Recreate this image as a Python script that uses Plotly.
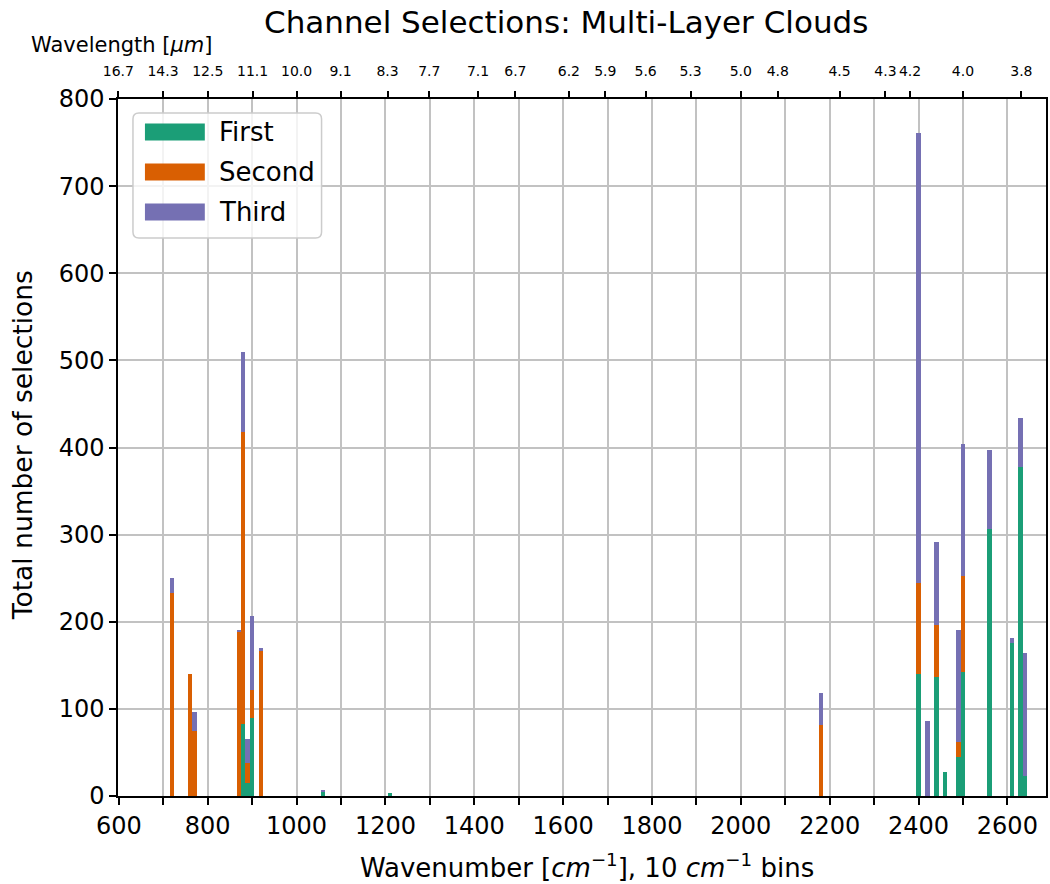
import plotly.graph_objects as go

# ---------------- data ----------------
wavenumber_bins = [720, 760, 770, 870, 880, 890, 900, 920, 1060, 1210, 2180,
                   2400, 2420, 2440, 2460, 2490, 2500, 2560, 2610, 2630, 2640]
first = [0, 0, 0, 0, 83, 15, 90, 0, 5, 3, 0,
         140, 0, 137, 27, 45, 142, 306, 176, 378, 23]
second = [233, 140, 75, 189, 335, 23, 32, 166, 0, 0, 82,
          104, 0, 59, 0, 17, 111, 0, 0, 0, 0]
third = [17, 0, 21, 2, 92, 28, 85, 4, 2, 0, 36,
         517, 86, 95, 0, 129, 151, 91, 5, 56, 141]
series_names = ["First", "Second", "Third"]
series_colors = ["#1b9e77", "#d95f02", "#7570b3"]
bin_width = 10

x_ticks = list(range(600, 2700, 100))
x_tick_labels = [str(v) if v % 200 == 0 else "" for v in x_ticks]
y_ticks = list(range(0, 900, 100))
wavelength_labels = ["16.7", "14.3", "12.5", "11.1", "10.0", "9.1", "8.3", "7.7",
                     "7.1", "6.7", "6.2", "5.9", "5.6", "5.3", "5.0", "4.8",
                     "4.5", "4.3", "4.2", "4.0", "3.8"]
wavelength_positions = [1e4 / float(w) for w in wavelength_labels]

X_RANGE = [598, 2687]
Y_RANGE = [0, 800]

# ---------------- layout geometry ----------------
W, H = 1050, 884
ML, MR, MT, MB = 118, 2, 99, 88
PW, PH = W - ML - MR, H - MT - MB
FONT = "DejaVu Sans"


def px(xp):
    return (xp - ML) / PW


def py(yp):
    return (H - MB - yp) / PH


fig = go.Figure()
for name, vals, col in zip(series_names, [first, second, third], series_colors):
    fig.add_trace(go.Bar(x=wavenumber_bins, y=vals, width=bin_width, name=name,
                         marker=dict(color=col, line=dict(width=0)),
                         showlegend=False))

# invisible trace to anchor the top axis
fig.add_trace(go.Scatter(x=[], y=[], xaxis="x2", showlegend=False, hoverinfo="skip"))

grid_col = "#c2c2c2"
fig.update_layout(
    width=W, height=H,
    margin=dict(l=ML, r=MR, t=MT, b=MB),
    paper_bgcolor="white", plot_bgcolor="white",
    barmode="stack",
    font=dict(family=FONT, color="black"),
    xaxis=dict(range=X_RANGE, tickmode="array", tickvals=x_ticks, ticktext=x_tick_labels,
               ticks="outside", ticklen=7, tickwidth=1.5, tickcolor="black",
               showline=True, linecolor="black", linewidth=1.5, mirror=True,
               showgrid=True, gridcolor=grid_col, gridwidth=1.6,
               tickfont=dict(size=24, family=FONT), zeroline=False),
    xaxis2=dict(range=X_RANGE, overlaying="x", side="top", anchor="y",
                tickmode="array", tickvals=wavelength_positions, ticktext=wavelength_labels,
                ticks="outside", ticklen=7, tickwidth=1.5, tickcolor="black",
                showline=False, showgrid=False, zeroline=False,
                tickfont=dict(size=14, family=FONT), ticklabelstandoff=9),
    yaxis=dict(range=Y_RANGE, tickmode="array", tickvals=y_ticks,
               ticks="outside", ticklen=7, tickwidth=1.5, tickcolor="black",
               showline=True, linecolor="black", linewidth=1.5, mirror=True,
               showgrid=True, gridcolor=grid_col, gridwidth=1.6,
               tickfont=dict(size=24, family=FONT), zeroline=False),
)

annotations = [
    dict(text="Channel Selections: Multi-Layer Clouds", x=px(567), y=py(22),
         xref="paper", yref="paper", showarrow=False, xanchor="center", yanchor="middle",
         font=dict(size=31, family=FONT)),
    dict(text="Wavelength [<i>μm</i>]", x=px(29), y=py(45),
         xref="paper", yref="paper", showarrow=False, xanchor="left", yanchor="middle",
         font=dict(size=21, family=FONT)),
    dict(text="Wavenumber [<i>cm</i><sup>−1</sup>], 10 <i>cm</i><sup>−1</sup> bins",
         x=px(588), y=py(866), xref="paper", yref="paper", showarrow=False,
         xanchor="center", yanchor="middle", font=dict(size=26, family=FONT)),
    dict(text="Total number of selections", x=px(22), y=py(445), textangle=-90,
         xref="paper", yref="paper", showarrow=False, xanchor="center", yanchor="middle",
         font=dict(size=26.5, family=FONT)),
]

# legend drawn manually (wide patches like the reference)
shapes = []
lx0, lx1, ly0, ly1, r = 133, 322, 113, 238, 6
path = (f"M {px(lx0 + r)},{py(ly0)} L {px(lx1 - r)},{py(ly0)} "
        f"Q {px(lx1)},{py(ly0)} {px(lx1)},{py(ly0 + r)} "
        f"L {px(lx1)},{py(ly1 - r)} Q {px(lx1)},{py(ly1)} {px(lx1 - r)},{py(ly1)} "
        f"L {px(lx0 + r)},{py(ly1)} Q {px(lx0)},{py(ly1)} {px(lx0)},{py(ly1 - r)} "
        f"L {px(lx0)},{py(ly0 + r)} Q {px(lx0)},{py(ly0)} {px(lx0 + r)},{py(ly0)} Z")
shapes.append(dict(type="path", path=path, xref="paper", yref="paper",
                   fillcolor="rgba(255,255,255,0.8)", line=dict(color="#cccccc", width=1.5),
                   layer="above"))
for i, (name, col) in enumerate(zip(series_names, series_colors)):
    cy = 132 + 40 * i
    shapes.append(dict(type="rect", xref="paper", yref="paper",
                       x0=px(145), x1=px(205), y0=py(cy - 8.5), y1=py(cy + 8.5),
                       fillcolor=col, line=dict(width=0), layer="above"))
    annotations.append(dict(text=name, x=px(217), y=py(cy), xref="paper", yref="paper",
                            showarrow=False, xanchor="left", yanchor="middle",
                            font=dict(size=26, family=FONT)))

fig.update_layout(annotations=annotations, shapes=shapes)
fig.write_html("out.html")
